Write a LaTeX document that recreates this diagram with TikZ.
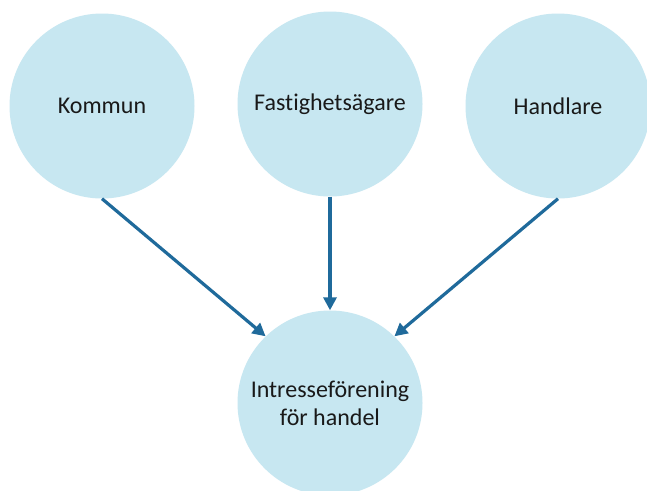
\documentclass[tikz,border=0pt]{standalone}
\usepackage{fontspec}
\setmainfont{Carlito}[Ligatures=NoCommon]
\usetikzlibrary{arrows.meta}
\definecolor{bubble}{HTML}{C7E7F1}
\definecolor{link}{HTML}{1F6A9B}
\tikzset{
  party/.style={circle, fill=bubble, minimum size=185pt, inner sep=0pt,
    font=\fontsize{24}{28}\selectfont, text=black!90, align=center},
  flow/.style={draw=link, line width=3.2pt,
    -{Triangle[length=13pt, width=13pt]}}
}
\begin{document}
\begin{tikzpicture}[x=1pt, y=-1pt]
  \useasboundingbox (0,0) rectangle (647,490);
  \clip (0,0) rectangle (647,490);
  \fill[white] (0,0) rectangle (647,490);

  \node[party] (kommun) at (102,106) {Kommun};
  \node[party] (fastighet) at (330,104) {Fastighetsägare};
  \node[party] (handlare) at (558,106) {Handlare};
  \node[party] (forening) at (330,403) {Intresseförening\\för handel};

  \draw[flow] (kommun.south) -- (forening.134);
  \draw[flow] (fastighet.south) -- (forening.north);
  \draw[flow] (handlare.south) -- (forening.46);
\end{tikzpicture}
\end{document}
